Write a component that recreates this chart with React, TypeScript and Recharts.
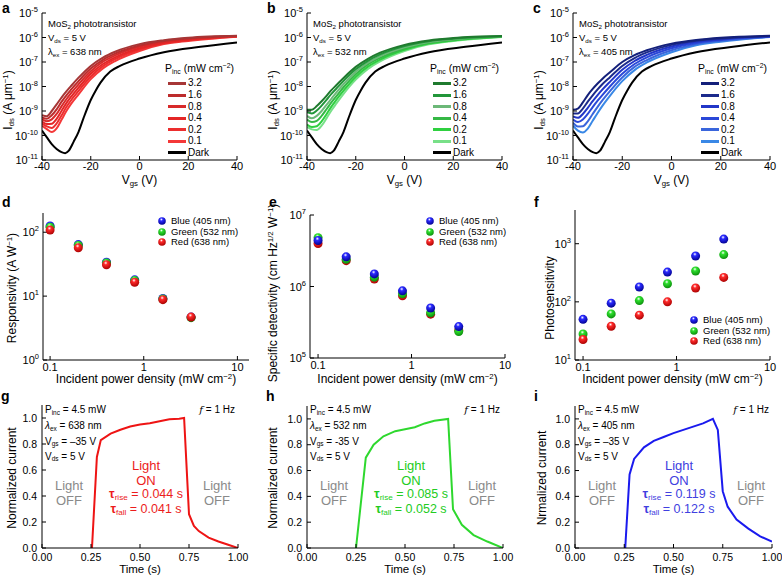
import React from 'react';
import { LineChart, Line, XAxis, YAxis, ScatterChart, Scatter } from 'recharts';

const FONT = '"Liberation Sans", Arial, Helvetica, sans-serif';

// ---- a-c: transfer curves, values are log10(Ids / A um^-1) ----
const vgsLight = [-40, -38, -36, -34, -32, -30, -28, -25, -20, -15, -10, 0, 10, 20, 40];
const vgsDark = [-40, -38, -36, -34, -32, -30.5, -29, -27, -25, -23, -20, -18, -16, -12, -8, 0, 10, 25, 40];
const darkLogIds = [-9.8, -10.08, -10.35, -10.55, -10.68, -10.72, -10.62, -10.25, -9.85, -9.3, -8.55, -8.17, -7.84, -7.39, -7.16, -6.86, -6.6, -6.38, -6.2];
const powerLabels = ['3.2', '1.6', '0.8', '0.4', '0.2', '0.1'];

const redLogIds = [
  [-9.17, -9.21, -9.0, -8.73, -8.45, -8.2, -7.97, -7.64, -7.16, -6.82, -6.58, -6.27, -6.11, -6.01, -5.93],
  [-9.26, -9.32, -9.17, -8.93, -8.63, -8.36, -8.12, -7.78, -7.27, -6.91, -6.66, -6.33, -6.14, -6.04, -5.94],
  [-9.34, -9.42, -9.34, -9.12, -8.81, -8.52, -8.26, -7.91, -7.38, -6.99, -6.73, -6.38, -6.17, -6.06, -5.95],
  [-9.43, -9.53, -9.52, -9.32, -9.0, -8.68, -8.41, -8.05, -7.48, -7.08, -6.81, -6.44, -6.21, -6.09, -5.95],
  [-9.51, -9.63, -9.69, -9.51, -9.18, -8.84, -8.55, -8.18, -7.59, -7.17, -6.88, -6.49, -6.24, -6.11, -5.96],
  [-9.6, -9.74, -9.86, -9.71, -9.36, -9.0, -8.7, -8.32, -7.7, -7.26, -6.96, -6.55, -6.27, -6.14, -5.97],
];
const greenLogIds = [
  [-8.95, -8.95, -8.8, -8.6, -8.38, -8.15, -7.95, -7.65, -7.2, -6.87, -6.62, -6.3, -6.12, -6.02, -5.94],
  [-9.05, -9.1, -8.98, -8.78, -8.55, -8.3, -8.09, -7.77, -7.3, -6.95, -6.69, -6.35, -6.15, -6.05, -5.95],
  [-9.2, -9.3, -9.2, -9.0, -8.75, -8.5, -8.25, -7.9, -7.4, -7.03, -6.76, -6.4, -6.18, -6.07, -5.95],
  [-9.35, -9.45, -9.4, -9.2, -8.93, -8.65, -8.4, -8.03, -7.5, -7.1, -6.83, -6.45, -6.21, -6.09, -5.96],
  [-9.55, -9.65, -9.62, -9.42, -9.13, -8.82, -8.55, -8.17, -7.61, -7.19, -6.9, -6.5, -6.25, -6.12, -5.97],
  [-9.65, -9.75, -9.78, -9.6, -9.3, -8.98, -8.7, -8.3, -7.72, -7.28, -6.97, -6.55, -6.28, -6.14, -5.98],
];
const blueLogIds = [
  [-8.95, -8.9, -8.65, -8.35, -8.1, -7.88, -7.68, -7.42, -7.0, -6.72, -6.52, -6.25, -6.1, -6.01, -5.93],
  [-9.1, -9.1, -8.9, -8.62, -8.36, -8.12, -7.9, -7.62, -7.16, -6.84, -6.61, -6.3, -6.13, -6.04, -5.94],
  [-9.22, -9.28, -9.12, -8.87, -8.6, -8.35, -8.12, -7.81, -7.32, -6.96, -6.71, -6.37, -6.17, -6.07, -5.95],
  [-9.35, -9.45, -9.35, -9.12, -8.84, -8.58, -8.34, -8.0, -7.48, -7.08, -6.81, -6.44, -6.22, -6.1, -5.96],
  [-9.48, -9.63, -9.62, -9.42, -9.12, -8.83, -8.56, -8.19, -7.63, -7.2, -6.92, -6.52, -6.27, -6.13, -5.97],
  [-9.6, -9.8, -9.88, -9.72, -9.4, -9.08, -8.78, -8.38, -7.78, -7.33, -7.02, -6.6, -6.32, -6.17, -5.98],
];
const redShades = ['#a63636', '#bd2c2c', '#d82a2a', '#e42626', '#ec2e2e', '#f43838'];
const greenShades = ['#1f7a2e', '#22963a', '#6cb878', '#35b845', '#2fd040', '#78e088'];
const blueShades = ['#14207a', '#1c2a8c', '#2236c8', '#2a48d8', '#3a66dc', '#3a88e6'];
const logIdsTicks = [-11, -10, -9, -8, -7, -6, -5];
const vgsTicks = [-40, -20, 0, 20, 40];

// ---- d-f: figures of merit vs incident power density ----
const powerDensity = [0.1, 0.2, 0.4, 0.8, 1.6, 3.2];
const respBlue = [125, 64, 34, 18, 9.2, 4.7];
const respGreen = [120, 62, 33, 17.5, 9, 4.6];
const respRed = [108, 57, 31, 16.5, 8.8, 4.7];
const detBlue = [4.4e6, 2.6e6, 1.5e6, 8.7e5, 5.0e5, 2.75e5];
const detGreen = [4.8e6, 2.4e6, 1.35e6, 7.9e5, 4.3e5, 2.35e5];
const detRed = [4.0e6, 2.3e6, 1.27e6, 7.4e5, 4.1e5, 2.45e5];
const sensBlue = [50, 95, 180, 325, 615, 1200];
const sensGreen = [28, 62, 105, 205, 340, 650];
const sensRed = [22.5, 38, 59, 100, 173, 263];
const powerTicks = [0.1, 1, 10];

// ---- g-i: normalized photocurrent vs time ----
const timeRed = [0.255, 0.28, 0.3, 0.35, 0.4, 0.45, 0.5, 0.55, 0.6, 0.65, 0.7, 0.725, 0.75, 0.775, 0.8, 0.85, 0.9, 0.95, 1.0];
const currentRed = [0, 0.7, 0.83, 0.88, 0.91, 0.935, 0.95, 0.96, 0.975, 0.99, 0.995, 1.0, 0.26, 0.17, 0.13, 0.08, 0.05, 0.025, 0.0];
const timeGreen = [0.25, 0.3, 0.34, 0.39, 0.45, 0.5, 0.55, 0.6, 0.65, 0.72, 0.745, 0.79, 0.85, 0.92, 1.0];
const currentGreen = [0, 0.7, 0.8, 0.865, 0.905, 0.92, 0.935, 0.965, 0.985, 1.0, 0.3, 0.18, 0.1, 0.05, 0.0];
const timeBlue = [0.255, 0.277, 0.3, 0.35, 0.4, 0.45, 0.5, 0.55, 0.6, 0.65, 0.7, 0.725, 0.75, 0.775, 0.82, 0.88, 0.94, 1.0];
const currentBlue = [0, 0.57, 0.69, 0.78, 0.83, 0.86, 0.89, 0.915, 0.94, 0.965, 1.0, 0.915, 0.44, 0.32, 0.22, 0.15, 0.09, 0.05];
const timeTicks = [0, 0.25, 0.5, 0.75, 1];
const currentTicks = [0, 0.2, 0.4, 0.6, 0.8, 1.0];

type Box = { l: number; r: number; t: number; b: number };
const YW = 46;
const MT = 14;
const MR = 16;
const XH = 24;

const toPoints = (xs: number[], ys: number[]) => xs.map((x, i) => ({ x, y: ys[i] }));

const Sub = ({ children }: { children: React.ReactNode }) => (
  <span style={{ fontSize: '0.65em', position: 'relative', top: '0.3em' }}>{children}</span>
);
const Sup = ({ children }: { children: React.ReactNode }) => (
  <span style={{ fontSize: '0.65em', position: 'relative', top: '-0.55em' }}>{children}</span>
);

type TxtProps = {
  x: number; y: number; size?: number; color?: string;
  anchor?: 'start' | 'middle' | 'end'; bold?: boolean; rotate?: boolean; children: React.ReactNode;
};
const Txt = ({ x, y, size = 10, color = '#000', anchor = 'start', bold, rotate, children }: TxtProps) => {
  const tx = anchor === 'start' ? '0' : anchor === 'middle' ? '-50%' : '-100%';
  return (
    <div
      style={{
        position: 'absolute', left: x, top: y, fontSize: size, color, fontWeight: bold ? 700 : 400,
        whiteSpace: 'nowrap', lineHeight: 1,
        transform: rotate ? 'translate(-50%,-50%) rotate(-90deg)' : `translate(${tx},-50%)`,
      }}
    >
      {children}
    </div>
  );
};

const PowTick = (props: any) => {
  const { x, y, payload, isLog } = props;
  const exp = isLog ? Math.round(Math.log10(payload.value)) : payload.value;
  return (
    <text x={x} y={y} dy={4} textAnchor="end" fontSize={11} fontFamily={FONT} fill="#000">
      10<tspan fontSize={7.5} dy={-5}>{exp}</tspan>
    </text>
  );
};

type AxesOpts = {
  xDomain: number[]; yDomain: number[]; xTicks: number[]; yTicks: number[];
  xLog?: boolean; yLog?: boolean; xFmt?: (v: number) => string; yFmt?: (v: number) => string;
  powY?: boolean; xGap: number; yGap?: number; fontSize?: number;
};
function frameAxes(o: AxesOpts) {
  const common = {
    type: 'number' as const, allowDataOverflow: true, stroke: '#000', tickSize: -4, interval: 0 as const,
    axisLine: { stroke: '#000', strokeWidth: 1 }, tickLine: { stroke: '#000' },
  };
  const tickFont = { fill: '#000', fontSize: o.fontSize ?? 11, fontFamily: FONT };
  const xScale = o.xLog ? 'log' : 'linear';
  const yScale = o.yLog ? 'log' : 'linear';
  return [
    <XAxis key="xb" xAxisId="b" dataKey="x" orientation="bottom" height={XH} domain={o.xDomain} ticks={o.xTicks}
      scale={xScale} tickMargin={o.xGap} tickFormatter={o.xFmt} tick={tickFont} {...common} />,
    <XAxis key="xt" xAxisId="t" dataKey="x" orientation="top" height={0} domain={o.xDomain} ticks={o.xTicks}
      scale={xScale} tick={false} {...common} />,
    <YAxis key="yl" yAxisId="l" dataKey="y" width={YW} domain={o.yDomain} ticks={o.yTicks} scale={yScale}
      tickMargin={o.yGap ?? 8} tickFormatter={o.yFmt}
      tick={o.powY ? <PowTick isLog={o.yLog} /> : tickFont} {...common} />,
    <YAxis key="yr" yAxisId="r" dataKey="y" orientation="right" width={0} domain={o.yDomain} ticks={o.yTicks}
      scale={yScale} tick={false} {...common} />,
  ];
}

const chartPos = (box: Box): React.CSSProperties => ({ position: 'absolute', left: box.l - YW, top: box.t - MT });
const chartW = (box: Box) => box.r - box.l + YW + MR;
const chartH = (box: Box) => box.b - box.t + MT + XH;
const margin = { top: MT, right: MR, bottom: 0, left: 0 };

// ---------- a-c ----------
type TransferProps = { box: Box; letter: string; curves: number[][]; shades: string[]; wavelength: string };
const TransferPanel = ({ box, letter, curves, shades, wavelength }: TransferProps) => {
  const legendYs = [83, 95, 106.5, 118, 129.5, 141, 152.5];
  return (
    <>
      <div style={chartPos(box)}>
        <LineChart width={chartW(box)} height={chartH(box)} margin={margin}>
          {frameAxes({ xDomain: [-40, 40], yDomain: [-11, -5], xTicks: vgsTicks, yTicks: logIdsTicks, powY: true, xGap: 6 })}
          <Line xAxisId="b" yAxisId="l" data={toPoints(vgsDark, darkLogIds)} dataKey="y" type="monotone"
            stroke="#000" strokeWidth={2} dot={false} isAnimationActive={false} />
          {curves.map((c, i) => ({ c, i })).reverse().map(({ c, i }) => (
            <Line key={i} xAxisId="b" yAxisId="l" data={toPoints(vgsLight, c)} dataKey="y" type="monotone"
              stroke={shades[i]} strokeWidth={2} dot={false} isAnimationActive={false} />
          ))}
        </LineChart>
      </div>
      <Txt x={box.l - 34} y={100} size={12} rotate>I<Sub>ds</Sub> (A μm<Sup>−1</Sup>)</Txt>
      <Txt x={(box.l + box.r) / 2} y={180} size={12} anchor="middle">V<Sub>gs</Sub> (V)</Txt>
      <Txt x={box.l - 40} y={8} size={14} bold>{letter}</Txt>
      <Txt x={box.l + 6} y={24} size={9.5}>MoS<Sub>2</Sub> phototransistor</Txt>
      <Txt x={box.l + 6} y={38} size={9.5}>V<Sub>ds</Sub> = 5 V</Txt>
      <Txt x={box.l + 6} y={52} size={9.5}>λ<Sub>ex</Sub> = {wavelength}</Txt>
      <Txt x={box.r - 72} y={68} size={10.5}>P<Sub>inc</Sub> (mW cm<Sup>−2</Sup>)</Txt>
      {[...powerLabels, 'Dark'].map((lab, i) => (
        <React.Fragment key={lab}>
          <div style={{ position: 'absolute', left: box.r - 69, top: legendYs[i] - 1.5, width: 18, height: 3,
            background: i < 6 ? shades[i] : '#000' }} />
          <Txt x={box.r - 49} y={legendYs[i]} size={10}>{lab}</Txt>
        </React.Fragment>
      ))}
    </>
  );
};

// ---------- d-f ----------
const sphereColors: Record<string, [string, string]> = {
  blue: ['#2a2aff', '#00008c'],
  green: ['#2ee02e', '#0a8a0a'],
  red: ['#ff2a2a', '#a80000'],
};
const Sphere = ({ cx, cy, tone, r = 4.5 }: { cx: number; cy: number; tone: string; r?: number }) => {
  const [c, d] = sphereColors[tone];
  const id = `sph-${tone}`;
  return (
    <g>
      <defs>
        <radialGradient id={id} cx="0.42" cy="0.3" r="0.72">
          <stop offset="0" stopColor="#ffffff" />
          <stop offset="0.28" stopColor={c} />
          <stop offset="1" stopColor={d} />
        </radialGradient>
      </defs>
      <circle cx={cx} cy={cy} r={r} fill={`url(#${id})`} />
    </g>
  );
};
const legendNames: Record<string, string> = { blue: 'Blue (405 nm)', green: 'Green (532 nm)', red: 'Red (638 nm)' };

type ScatterProps = {
  box: Box; letter: string; xDomain: number[]; yDomain: number[]; yTicks: number[];
  series: { tone: string; values: number[] }[]; legendX: number; legendY: number;
  yTitle: React.ReactNode; yTitleX: number; yTitleY: number;
};
const ScatterPanel = ({ box, letter, xDomain, yDomain, yTicks, series, legendX, legendY, yTitle, yTitleX, yTitleY }: ScatterProps) => (
  <>
    <div style={chartPos(box)}>
      <ScatterChart width={chartW(box)} height={chartH(box)} margin={margin}>
        {frameAxes({ xDomain, yDomain, xTicks: powerTicks, yTicks, xLog: true, yLog: true, powY: true, xGap: 7,
          xFmt: (v) => String(v) })}
        {series.map((s) => (
          <Scatter key={s.tone} xAxisId="b" yAxisId="l" data={toPoints(powerDensity, s.values)} isAnimationActive={false}
            shape={(p: any) => <Sphere cx={p.cx} cy={p.cy} tone={s.tone} />} />
        ))}
      </ScatterChart>
    </div>
    <Txt x={yTitleX} y={yTitleY} size={12} rotate>{yTitle}</Txt>
    <Txt x={(box.l + box.r) / 2} y={379} size={12} anchor="middle">Incident power density (mW cm<Sup>−2</Sup>)</Txt>
    <Txt x={box.l - 41} y={202} size={14} bold>{letter}</Txt>
    {['blue', 'green', 'red'].map((tone, i) => (
      <React.Fragment key={tone}>
        <svg style={{ position: 'absolute', left: legendX - 5, top: legendY + i * 10.6 - 5 }} width={10} height={10}>
          <Sphere cx={5} cy={5} tone={tone} r={3.8} />
        </svg>
        <Txt x={legendX + 9} y={legendY + i * 10.6} size={9.5}>{legendNames[tone]}</Txt>
      </React.Fragment>
    ))}
  </>
);

// ---------- g-i ----------
type TimeProps = {
  box: Box; letter: string; t: number[]; v: number[]; color: string; textColor: string;
  wavelength: string; vgs: string; rise: string; fall: string; yTitle: string; yTitleX: number;
};
const TimePanel = ({ box, letter, t, v, color, textColor, wavelength, vgs, rise, fall, yTitle, yTitleX }: TimeProps) => {
  const onX = box.l + 104;
  return (
    <>
      <div style={chartPos(box)}>
        <LineChart width={chartW(box)} height={chartH(box)} margin={margin}>
          {frameAxes({ xDomain: [0, 1], yDomain: [0, 1.1], xTicks: timeTicks, yTicks: currentTicks, xGap: 10, yGap: 9,
            fontSize: 10.5, xFmt: (x) => x.toFixed(2), yFmt: (y) => y.toFixed(1) })}
          <Line xAxisId="b" yAxisId="l" data={toPoints(t, v)} dataKey="y" type="linear" stroke={color}
            strokeWidth={2} dot={false} isAnimationActive={false} />
        </LineChart>
      </div>
      <Txt x={yTitleX} y={478} size={12} rotate>{yTitle}</Txt>
      <Txt x={(box.l + box.r) / 2} y={569.5} size={11.5} anchor="middle">Time (s)</Txt>
      <Txt x={box.l - 41} y={396} size={14} bold>{letter}</Txt>
      <Txt x={box.l + 3} y={410} size={10}>P<Sub>inc</Sub> = 4.5 mW</Txt>
      <Txt x={box.l + 3} y={426} size={10}><i>λ</i><Sub>ex</Sub> = {wavelength}</Txt>
      <Txt x={box.l + 3} y={441.5} size={10}>V<Sub>gs</Sub> = {vgs} V</Txt>
      <Txt x={box.l + 3} y={456.5} size={10}>V<Sub>ds</Sub> = 5 V</Txt>
      <Txt x={box.r - 3} y={410} size={10} anchor="end"><i style={{ fontFamily: 'DejaVu Serif, serif' }}>f</i> = 1 Hz</Txt>
      <Txt x={box.l + 27} y={485} size={13} color="#8a8a8a" anchor="middle">Light</Txt>
      <Txt x={box.l + 27} y={500} size={13} color="#8a8a8a" anchor="middle">OFF</Txt>
      <Txt x={box.r - 21} y={485} size={13} color="#8a8a8a" anchor="middle">Light</Txt>
      <Txt x={box.r - 21} y={500} size={13} color="#8a8a8a" anchor="middle">OFF</Txt>
      <Txt x={onX} y={465} size={13} color={textColor} anchor="middle">Light</Txt>
      <Txt x={onX} y={479.5} size={13} color={textColor} anchor="middle">ON</Txt>
      <Txt x={onX} y={494} size={12.5} color={textColor} anchor="middle"><b>τ</b><Sub>rise</Sub> = {rise} s</Txt>
      <Txt x={onX} y={509} size={12.5} color={textColor} anchor="middle"><b>τ</b><Sub>fall</Sub> = {fall} s</Txt>
    </>
  );
};

const App: React.FC = () => (
  <div style={{ position: 'absolute', left: 0, top: 0, width: 782, height: 575, background: '#fff', fontFamily: FONT, overflow: 'hidden' }}>
    <TransferPanel box={{ l: 42, r: 237, t: 13, b: 160 }} letter="a" curves={redLogIds} shades={redShades} wavelength="638 nm" />
    <TransferPanel box={{ l: 307, r: 502, t: 13, b: 160 }} letter="b" curves={greenLogIds} shades={greenShades} wavelength="532 nm" />
    <TransferPanel box={{ l: 573, r: 770, t: 13, b: 160 }} letter="c" curves={blueLogIds} shades={blueShades} wavelength="405 nm" />

    <ScatterPanel box={{ l: 43, r: 249, t: 213, b: 360 }} letter="d" xDomain={[0.084, 13.3]} yDomain={[1, 200]}
      yTicks={[1, 10, 100]} legendX={162} legendY={221}
      series={[{ tone: 'blue', values: respBlue }, { tone: 'green', values: respGreen }, { tone: 'red', values: respRed }]}
      yTitle={<>Responsivity (A W<Sup>−1</Sup>)</>} yTitleX={12} yTitleY={288} />
    <ScatterPanel box={{ l: 310, r: 505, t: 215, b: 358 }} letter="e" xDomain={[0.082, 10]} yDomain={[1e5, 1e7]}
      yTicks={[1e5, 1e6, 1e7]} legendX={430} legendY={221}
      series={[{ tone: 'red', values: detRed }, { tone: 'green', values: detGreen }, { tone: 'blue', values: detBlue }]}
      yTitle={<>Specific detectivity (cm Hz<Sup>1/2</Sup> W<Sup>−1</Sup>)</>} yTitleX={273} yTitleY={293} />
    <ScatterPanel box={{ l: 575, r: 770, t: 210, b: 360 }} letter="f" xDomain={[0.082, 10]} yDomain={[10, 3800]}
      yTicks={[10, 100, 1000]} legendX={694} legendY={320}
      series={[{ tone: 'blue', values: sensBlue }, { tone: 'green', values: sensGreen }, { tone: 'red', values: sensRed }]}
      yTitle={<>Photosensitivity</>} yTitleX={550} yTitleY={298} />

    <TimePanel box={{ l: 42, r: 238, t: 405, b: 548 }} letter="g" t={timeRed} v={currentRed} color="#ee1414"
      textColor="#ec1c1c" wavelength="638 nm" vgs="–35" rise="0.044" fall="0.041" yTitle="Normalized current" yTitleX={12} />
    <TimePanel box={{ l: 307, r: 503, t: 406, b: 548 }} letter="h" t={timeGreen} v={currentGreen} color="#2ed82e"
      textColor="#22cc22" wavelength="532 nm" vgs="-35" rise="0.085" fall="0.052" yTitle="Normalized current" yTitleX={273} />
    <TimePanel box={{ l: 575, r: 772, t: 406, b: 548 }} letter="i" t={timeBlue} v={currentBlue} color="#1a1aee"
      textColor="#4040e0" wavelength="405 nm" vgs="–35" rise="0.119" fall="0.122" yTitle="Nrmalized current" yTitleX={542} />
  </div>
);

export default App;
